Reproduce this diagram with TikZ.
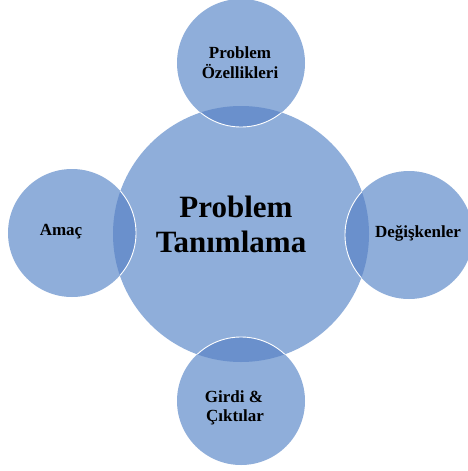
\documentclass[tikz,border=0pt]{standalone}
\usepackage{fontspec}
\setmainfont{Liberation Serif}
\definecolor{discblue}{HTML}{8FAEDA}
\definecolor{lensblue}{HTML}{6A90CC}
\begin{document}
\begin{tikzpicture}[x=1pt,y=-1pt,
  disc/.style={fill=discblue},
  lens/.style={fill=lensblue},
  rim/.style={draw=white,line width=0.9pt},
  label/.style={font=\bfseries\fontsize{17}{20}\selectfont,text=black,align=center,inner sep=0pt},
  title/.style={font=\bfseries\fontsize{31}{35}\selectfont,text=black,align=center,inner sep=0pt}]
\useasboundingbox (0,0) rectangle (467,471);
\fill[white] (0,0) rectangle (467,471);

% centre and outer discs
\def\R{128}
\def\r{64}
\coordinate (c) at (241,234);
\coordinate (t) at (241,63);
\coordinate (l) at (72,233);
\coordinate (rr) at (409,235);
\coordinate (b) at (241,401);

\fill[disc] (c) circle (\R);
\foreach \p in {t,l,rr,b} {
  \fill[disc] (\p) circle (\r);
}
% darker overlaps and white rims where the outer discs cross the centre
\begin{scope}
  \clip (c) circle (\R);
  \foreach \p in {t,l,rr,b} {
    \fill[lens] (\p) circle (\r);
    \draw[rim] (\p) circle (\r);
  }
\end{scope}

% texts
\node[title,anchor=base] (main1) at (236,217) {Problem};
\node[title,anchor=base] (main2) at (231,252) {Tanımlama};
\node[label,anchor=base] (top1) at (240,58) {Problem};
\node[label,anchor=base] (top2) at (240,78) {Özellikleri};
\node[label,anchor=base] (left) at (61,235) {Amaç};
\node[label,anchor=base] (right) at (418,237) {Değişkenler};
\node[label,anchor=base] (bot1) at (234,402) {Girdi \&};
\node[label,anchor=base] (bot2) at (235,421) {Çıktılar};
\end{tikzpicture}
\end{document}
